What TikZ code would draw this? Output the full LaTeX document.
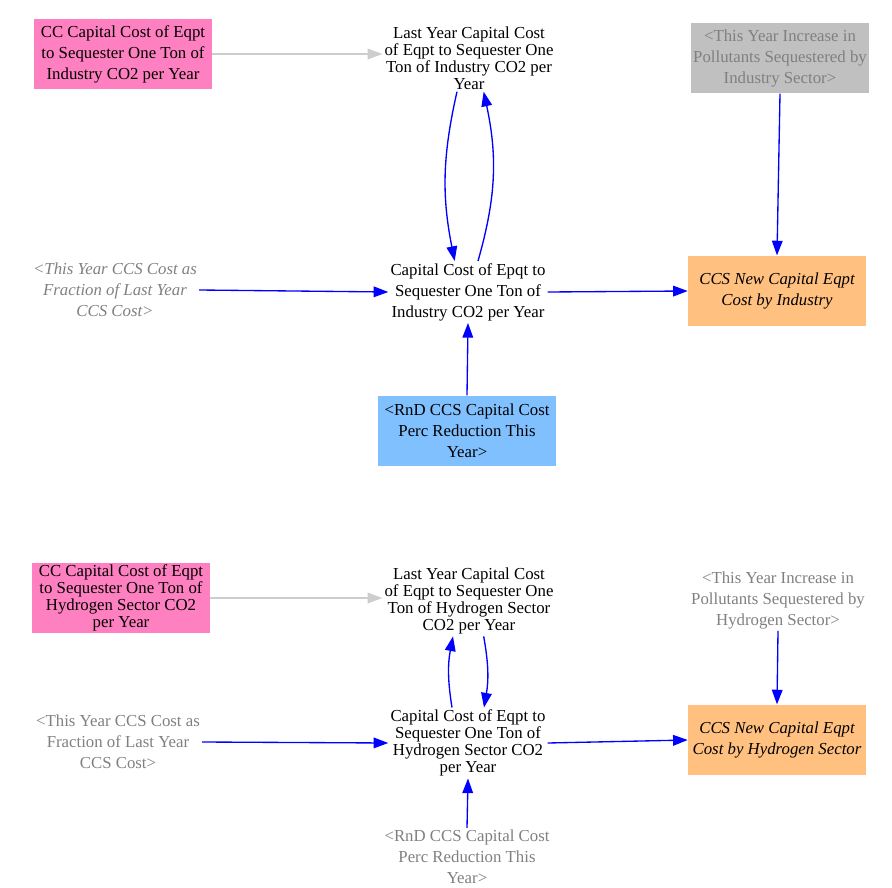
\documentclass[tikz,border=0pt]{standalone}
\usepackage{fontspec}
\setmainfont{Liberation Serif}
\usepackage{xcolor}
\usepackage{tikz}
\usetikzlibrary{arrows.meta}

\definecolor{ccpink}{RGB}{255,128,192}
\definecolor{shadowgray}{RGB}{192,192,192}
\definecolor{shadowtext}{RGB}{128,128,128}
\definecolor{outorange}{RGB}{255,192,128}
\definecolor{rndblue}{RGB}{128,192,255}
\definecolor{linkgray}{RGB}{205,205,205}

\begin{document}
\begin{tikzpicture}[x=0.75pt,y=-0.75pt]
        % Define the styles for the variables and the links
        \tikzstyle{var}=[align=center, inner sep=1.5pt, font=\fontsize{12.6}{15.75}\selectfont];
        \tikzstyle{tight}=[font=\fontsize{12.6}{12.75}\selectfont];
        \tikzstyle{box}=[var, minimum width=133.5pt, minimum height=53pt];
        \tikzstyle{shadow}=[var, text=shadowtext];
        \tikzstyle{link}=[line width=1pt, blue, -{Triangle[length=11pt,width=8pt]}];
        \tikzstyle{const}=[line width=1pt, linkgray, -{Triangle[length=11pt,width=8pt]}];

        % Fix the size of the page
        \useasboundingbox (0,0) rectangle (892,888);

        % Industry sector
        \node[box, fill=ccpink] (ccind) at (123,54) {CC Capital Cost of Eqpt\\to Sequester One Ton of\\Industry CO2 per Year};
        \node[var, tight] (lyind) at (469,58) {Last Year Capital Cost\\of Eqpt to Sequester One\\Ton of Industry CO2 per\\Year};
        \node[box, shadow, fill=shadowgray] (tyiind) at (780,58) {<This Year Increase in\\Pollutants Sequestered by\\Industry Sector>};
        \node[shadow] (tycind) at (115,290) {\itshape <This Year CCS Cost as\\\itshape Fraction of Last Year\\\itshape CCS Cost>};
        \node[var] (capind) at (468,292) {Capital Cost of Epqt to\\Sequester One Ton of\\Industry CO2 per Year};
        \node[box, fill=outorange] (newind) at (777,291) {\itshape CCS New Capital Eqpt\\\itshape Cost by Industry};
        \node[box, fill=rndblue] (rndind) at (467,431) {<RnD CCS Capital Cost\\Perc Reduction This\\Year>};

        \draw[const] (ccind.east) -- (lyind.west |- ccind.east);
        \draw[link] ([xshift=-9pt]lyind.south) to[bend right=12] ([xshift=-10pt]capind.north);
        \draw[link] ([xshift=7.5pt]capind.north) to[bend right=14] ([xshift=11pt]lyind.south);
        \draw[link] (tycind.east) -- (capind.west);
        \draw[link] (capind.east) -- (newind.west);
        \draw[link] (tyiind.south) -- (newind.north);
        \draw[link] (rndind.north) -- (capind.south);

        % Hydrogen sector
        \node[box, tight, fill=ccpink] (cchyd) at (121,598) {CC Capital Cost of Eqpt\\to Sequester One Ton of\\Hydrogen Sector CO2\\per Year};
        \node[var, tight] (lyhyd) at (469,601) {Last Year Capital Cost\\of Eqpt to Sequester One\\Ton of Hydrogen Sector\\CO2 per Year};
        \node[shadow] (tyihyd) at (778,600) {<This Year Increase in\\Pollutants Sequestered by\\Hydrogen Sector>};
        \node[shadow] (tychyd) at (118,742) {<This Year CCS Cost as\\Fraction of Last Year\\CCS Cost>};
        \node[var, tight] (caphyd) at (468,743) {Capital Cost of Eqpt to\\Sequester One Ton of\\Hydrogen Sector CO2\\per Year};
        \node[box, fill=outorange] (newhyd) at (777,740) {\itshape CCS New Capital Eqpt\\\itshape Cost by Hydrogen Sector};
        \node[shadow] (rndhyd) at (467,857) {<RnD CCS Capital Cost\\Perc Reduction This\\Year>};

        \draw[const] (cchyd.east) -- (lyhyd.west |- cchyd.east);
        \draw[link] ([xshift=-12pt]caphyd.north) to[bend left=10] ([xshift=-12pt]lyhyd.south);
        \draw[link] ([xshift=11pt]lyhyd.south) to[bend left=10] ([xshift=12pt]caphyd.north);
        \draw[link] (tychyd.east) -- (caphyd.west);
        \draw[link] (caphyd.east) -- (newhyd.west);
        \draw[link] (tyihyd.south) -- (newhyd.north);
        \draw[link] (rndhyd.north) -- (caphyd.south);
\end{tikzpicture}
\end{document}
